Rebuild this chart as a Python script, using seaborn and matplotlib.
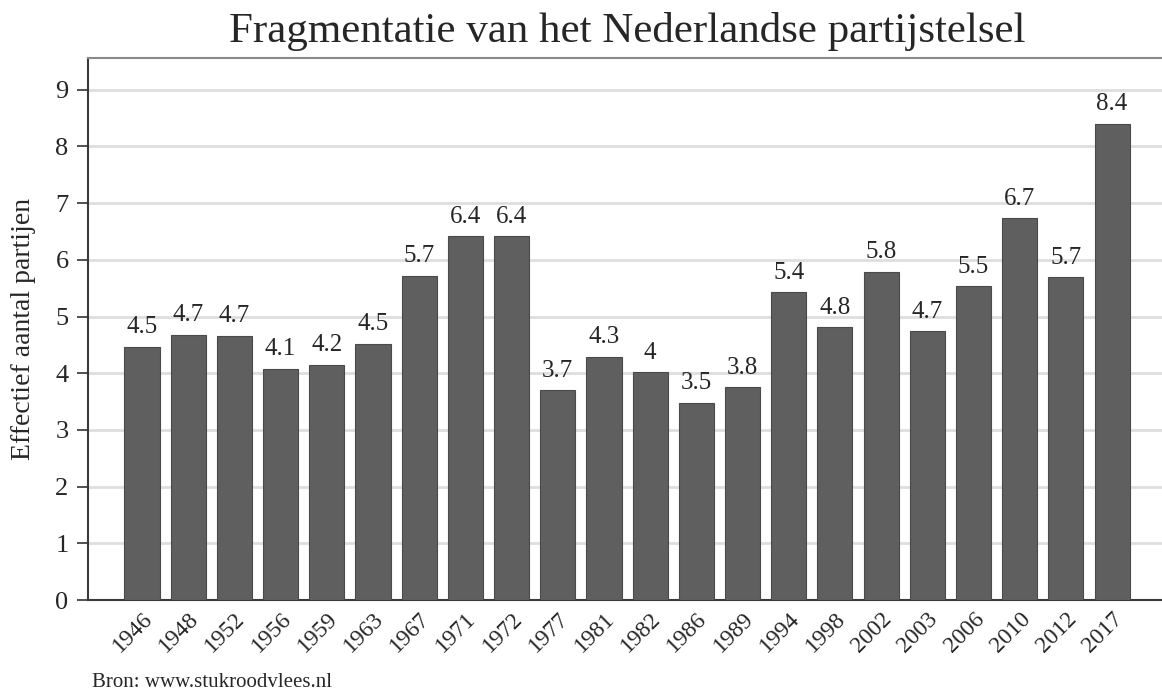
import pandas as pd
import matplotlib
matplotlib.use("Agg")
import matplotlib.pyplot as plt
import seaborn as sns

# Verkiezingsjaren en effectief aantal partijen
years = ['1946', '1948', '1952', '1956', '1959', '1963', '1967', '1971', '1972',
         '1977', '1981', '1982', '1986', '1989', '1994', '1998', '2002', '2003',
         '2006', '2010', '2012', '2017']
enp = [4.47, 4.68, 4.66, 4.08, 4.15, 4.52, 5.72, 6.42, 6.42,
       3.70, 4.29, 4.02, 3.48, 3.75, 5.43, 4.81, 5.79, 4.74,
       5.54, 6.74, 5.70, 8.40]
y_ticks = [0, 1, 2, 3, 4, 5, 6, 7, 8, 9]

df = pd.DataFrame({'jaar': years, 'enp': enp})

sns.set_theme(style="white")
plt.rcParams['font.family'] = ['Liberation Serif', 'DejaVu Serif']

fig = plt.figure(figsize=(11.62, 6.94), dpi=100)
ax = fig.add_axes([0.0757, 0.1354, 0.9243, 0.781])

sns.barplot(data=df, x='jaar', y='enp', color='#5f5f5f', saturation=1,
            width=0.76, edgecolor='#4a4a4a', linewidth=0.8, ax=ax, zorder=3)

# Waardelabels boven de balken
labels = [f'{round(v, 1):g}' for v in enp]
ax.bar_label(ax.containers[0], labels=labels, padding=6, fontsize=18)

ax.set_ylim(0, 9.56)
ax.set_xlim(-1.17, 22.08)
ax.set_yticks(y_ticks)
ax.yaxis.grid(True, color='#dedede', linewidth=2)
ax.set_axisbelow(True)

ax.tick_params(axis='y', labelsize=19, length=8, width=1.2, color='#333333', left=True, pad=6)
ax.tick_params(axis='x', labelsize=17, length=0, pad=6)
plt.setp(ax.get_xticklabels(), rotation=45, ha='right', rotation_mode='anchor')

for side in ['left', 'bottom']:
    ax.spines[side].set_color('#3a3a3a')
    ax.spines[side].set_linewidth(1.5)
ax.spines['top'].set_color('#8a8a8a')
ax.spines['top'].set_linewidth(1.5)
ax.spines['right'].set_visible(False)

ax.set_xlabel('')
ax.set_ylabel('Effectief aantal partijen', fontsize=20, labelpad=14)
fig.suptitle('Fragmentatie van het Nederlandse partijstelsel', fontsize=31, x=0.54, y=0.982)
fig.text(0.079, 0.01, 'Bron: www.stukroodvlees.nl', fontsize=15)

plt.savefig('out.png', dpi=100)
plt.close()
